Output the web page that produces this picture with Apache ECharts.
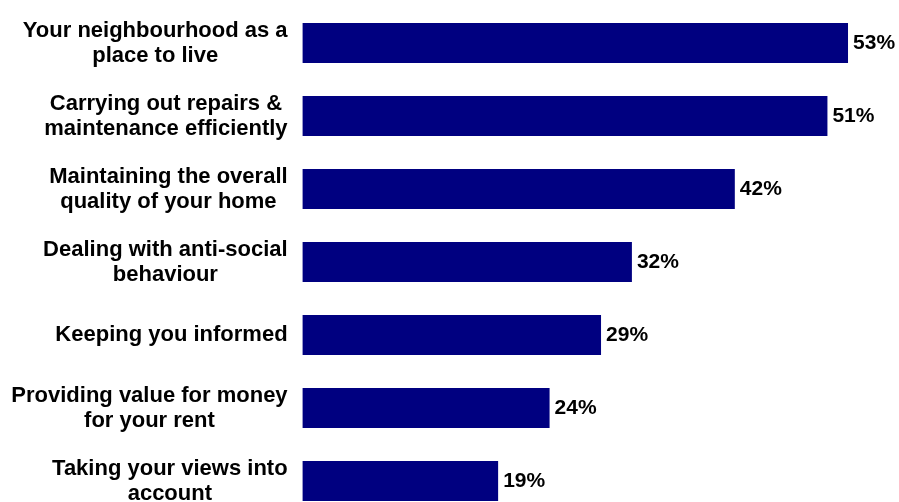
<!DOCTYPE html>
<html>
<head>
<meta charset="utf-8">
<script src="https://cdn.jsdelivr.net/npm/echarts@6/dist/echarts.min.js"></script>
<style>
  html, body { margin: 0; padding: 0; background: #ffffff; overflow: hidden; }
  /* the last band runs past the bottom edge of the window */
  #chart { width: 899px; height: 518px; }
</style>
</head>
<body>
<div id="chart"></div>
<script>
// Satisfaction items, top to bottom
const categories = [
  'Your neighbourhood as a\nplace to live',
  'Carrying out repairs &\nmaintenance efficiently',
  'Maintaining the overall\nquality of your home',
  'Dealing with anti-social\nbehaviour',
  'Keeping you informed',
  'Providing value for money\nfor your rent',
  'Taking your views into\naccount'
];

// Percentage satisfied
const values = [53, 51, 42, 32, 29, 24, 19];

const FONT = '"Liberation Sans", Arial, Helvetica, sans-serif';

const chart = echarts.init(document.getElementById('chart'), null, { renderer: 'canvas' });

chart.setOption({
  animation: false,
  backgroundColor: '#ffffff',
  grid: {
    left: 302.6,
    top: 6.5,
    width: 566,
    height: 511,
    containLabel: false
  },
  xAxis: {
    type: 'value',
    min: 0,
    max: 55,
    show: false,
    splitLine: { show: false }
  },
  yAxis: {
    type: 'category',
    data: categories,
    inverse: true,
    axisLine: { show: false },
    axisTick: { show: false },
    splitLine: { show: false },
    axisLabel: {
      margin: 15,
      align: 'right',
      formatter: function (v) {
        return v.split('\n').map(function (l) { return '{c|' + l + '}'; }).join('\n');
      },
      rich: {
        c: {
          align: 'center',
          fontFamily: FONT,
          fontSize: 22,
          fontWeight: 'bold',
          lineHeight: 25,
          color: '#000000'
        }
      }
    }
  },
  series: [{
    type: 'bar',
    data: values,
    barWidth: 40,
    itemStyle: { color: '#000080' },
    label: {
      show: true,
      position: 'right',
      distance: 5,
      formatter: '{c}%',
      fontFamily: FONT,
      fontSize: 21,
      fontWeight: 'bold',
      color: '#000000'
    }
  }]
});
</script>
</body>
</html>
